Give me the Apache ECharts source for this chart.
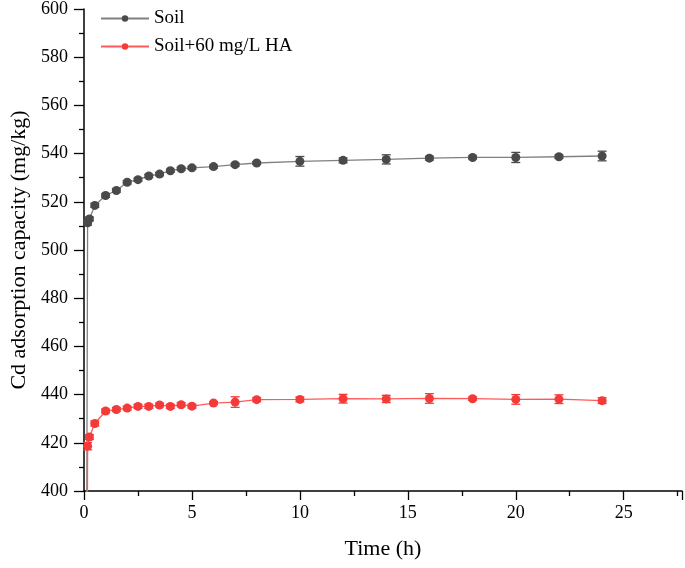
<!DOCTYPE html>
<html>
<head>
<meta charset="utf-8">
<script src="https://cdn.jsdelivr.net/npm/echarts@6/dist/echarts.min.js"></script>
<style>html,body{margin:0;padding:0;background:#fff}#c{width:685px;height:568px}</style>
</head>
<body>
<div id="c"></div>
<script>
const times   = [0, 0.167, 0.25, 0.5, 1, 1.5, 2, 2.5, 3, 3.5, 4, 4.5, 5, 6, 7, 8, 10, 12, 14, 16, 18, 20, 22, 24];
const soil    = [0, 511.3, 512.9, 518.5, 522.6, 524.7, 528.1, 529.2, 530.7, 531.5, 532.9, 533.7, 534.1, 534.6, 535.4, 536.1, 536.8, 537.2, 537.6, 538.1, 538.4, 538.4, 538.7, 539.0];
const soilErr = [null, 1.0, 0.8, 0.8, 0.7, 0.7, 0.7, 0.6, 0.7, 0.7, 0.6, 0.6, 0.6, 0.6, 0.6, 0.6, 2.0, 1.0, 1.9, 0.8, 0.6, 2.1, 0.7, 2.0];
const soilHA  = [0, 418.6, 422.4, 428.0, 433.2, 433.8, 434.4, 435.1, 435.1, 435.7, 435.1, 435.8, 435.2, 436.5, 436.9, 437.9, 438.0, 438.3, 438.2, 438.4, 438.3, 438.0, 438.1, 437.5];
const haErr   = [null, 1.5, 1.0, 1.0, 0.8, 0.8, 0.8, 0.8, 0.8, 0.8, 0.8, 0.8, 0.8, 0.6, 2.2, 0.8, 1.0, 1.8, 1.5, 2.0, 0.7, 2.0, 1.8, 1.2];
const seriesNames = ['Soil', 'Soil+60 mg/L HA'];
const xTicks = [0, 5, 10, 15, 20, 25];
const yTicks = [400, 420, 440, 460, 480, 500, 520, 540, 560, 580, 600];

const FONT = 'Liberation Serif';
const grayLine = '#808080', grayDot = '#4a4a4a';
const redLine = '#ff5a5a', redDot = '#f53a3a';

function pts(vals){ return times.map((t,i)=>[t, vals[i]]); }
function errs(vals, e){
  const out = [];
  times.forEach((t,i)=>{ if(e[i]!=null) out.push([t, vals[i]-e[i], vals[i]+e[i]]); });
  return out;
}
function errRender(color){
  return function(params, api){
    const x = api.value(0), lo = api.value(1), hi = api.value(2);
    const a = api.coord([x, hi]), b = api.coord([x, lo]);
    const w = 4.5;
    const st = {stroke: color, lineWidth: 1.3};
    return {type:'group', children:[
      {type:'line', shape:{x1:a[0], y1:a[1], x2:b[0], y2:b[1]}, style:st},
      {type:'line', shape:{x1:a[0]-w, y1:a[1], x2:a[0]+w, y2:a[1]}, style:st},
      {type:'line', shape:{x1:b[0]-w, y1:b[1], x2:b[0]+w, y2:b[1]}, style:st}
    ]};
  };
}

const chart = echarts.init(document.getElementById('c'), null, {renderer:'canvas'});
chart.setOption({
  animation: false,
  backgroundColor: '#fff',
  textStyle: {fontFamily: FONT},
  grid: {left: 84, right: 0, top: 7, bottom: 77, containLabel: false},
  legend: {
    orient: 'vertical', left: 95, top: 4, itemGap: 9,
    itemWidth: 48, itemHeight: 8,
    textStyle: {fontFamily: FONT, fontSize: 19, color: '#000'},
    data: seriesNames
  },
  xAxis: {
    type: 'value', min: 0, max: 27.7, interval: 5,
    name: 'Time (h)', nameLocation: 'middle', nameGap: 47,
    nameTextStyle: {fontFamily: FONT, fontSize: 22, color: '#000'},
    axisLine: {onZero: false, lineStyle: {color: '#000', width: 1.5}},
    axisTick: {length: 9, lineStyle: {color: '#000', width: 1.3}},
    minorTick: {show: true, splitNumber: 2, length: 5, lineStyle: {color: '#000', width: 1.3}},
    axisLabel: {fontFamily: FONT, fontSize: 18, color: '#000', margin: 13,
      formatter: v => xTicks.includes(v) ? String(v) : ''},
    splitLine: {show: false}
  },
  yAxis: {
    type: 'value', min: 400, max: 600, interval: 20,
    name: 'Cd adsorption capacity (mg/kg)', nameLocation: 'middle', nameGap: 53,
    nameTextStyle: {fontFamily: FONT, fontSize: 22, color: '#000'},
    axisLine: {show: true, onZero: false, lineStyle: {color: '#000', width: 1.5}},
    axisTick: {show: true, length: 10, lineStyle: {color: '#000', width: 1.3}},
    minorTick: {show: true, splitNumber: 2, length: 5, lineStyle: {color: '#000', width: 1.3}},
    axisLabel: {fontFamily: FONT, fontSize: 18, color: '#000', margin: 16,
      formatter: v => yTicks.includes(v) ? String(v) : ''},
    splitLine: {show: false}
  },
  series: [
    {
      name: seriesNames[0], type: 'line', data: pts(soil), clip: true,
      symbol: 'circle', symbolSize: 9,
      lineStyle: {color: grayLine, width: 1.3},
      itemStyle: {color: grayDot}, z: 3
    },
    {
      name: seriesNames[1], type: 'line', data: pts(soilHA), clip: true,
      symbol: 'circle', symbolSize: 9,
      lineStyle: {color: redLine, width: 1.3},
      itemStyle: {color: redDot}, z: 3
    },
    {
      type: 'custom', data: errs(soil, soilErr), renderItem: errRender(grayDot),
      encode: {x: 0, y: [1, 2]}, z: 4, silent: true
    },
    {
      type: 'custom', data: errs(soilHA, haErr), renderItem: errRender(redDot),
      encode: {x: 0, y: [1, 2]}, z: 4, silent: true
    }
  ]
});
</script>
</body>
</html>
